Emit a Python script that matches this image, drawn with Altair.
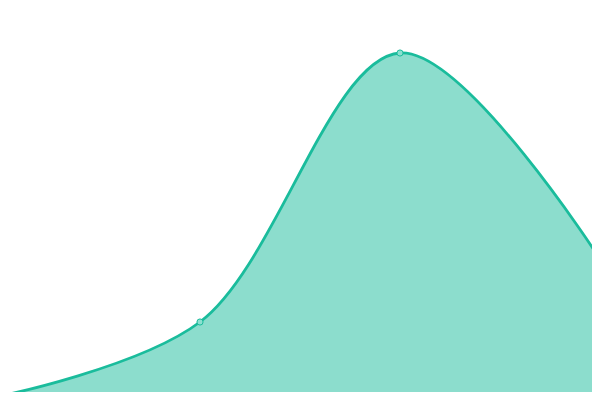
import altair as alt
import pandas as pd

xs = [0, 1, 2, 3]
values = [1.0, 19.5, 86.75, 35.25]

df = pd.DataFrame({"x": xs, "v": values})

# The page shows the chart inside an 8px margin: visible x 0.04..2.96, y 2..98
xenc = alt.X("x:Q", scale=alt.Scale(domain=[0.04, 2.96], nice=False, zero=False), axis=None)
yenc = alt.Y("v:Q", scale=alt.Scale(domain=[2, 98], nice=False, zero=False), axis=None)

area = alt.Chart(df).mark_area(
    interpolate="catmull-rom", color="#1abc9c", fillOpacity=0.5, clip=True,
    line={"color": "#1abc9c", "strokeWidth": 2.8},
).encode(x=xenc, y=yenc, y2=alt.datum(0))

pts = alt.Chart(df).mark_point(
    filled=True, fill="#8ce0d0", stroke="#1abc9c", strokeWidth=1, size=38, opacity=1, clip=True
).encode(x=xenc, y=yenc)

chart = (area + pts).properties(
    width=584, height=384,
    autosize=alt.AutoSizeParams(type="fit", contains="padding"),
    padding=0,
).configure_view(stroke=None)

chart.save("out.html", embed_options={"renderer": "svg", "actions": False})
